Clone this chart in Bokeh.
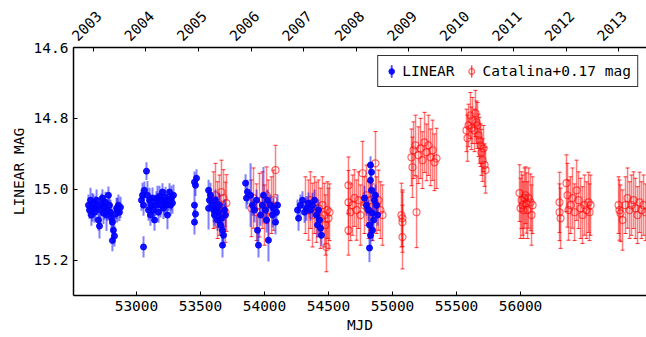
import numpy as np
from bokeh.plotting import figure
from bokeh.models import (ColumnDataSource, Range1d, LinearAxis, Whisker, TeeHead,
                          Legend, LegendItem, FixedTicker, PrintfTickFormatter, Ellipse,
                          CustomJSTickFormatter)
from bokeh.embed import file_html
from bokeh.resources import INLINE

FONT = "DejaVu Sans Mono"
FS = "14.5px"

# ---------------- LINEAR: (MJD, mag, err) per season ----------------
lin_2003 = [(52625,15.045,0.03),(52633,15.059,0.025),(52641,15.031,0.035),(52648,15.073,0.03),
            (52656,15.051,0.04),(52664,15.039,0.025),(52672,15.065,0.03),(52680,15.054,0.035),
            (52688,15.031,0.03),(52695,15.048,0.025),(52703,15.087,0.03),(52711,15.104,0.035),
            (52719,15.059,0.04),(52727,15.042,0.03),(52734,15.025,0.025),(52742,15.068,0.03),
            (52750,15.051,0.035),(52758,15.037,0.03),(52766,15.073,0.045),(52773,15.059,0.03),
            (52781,15.017,0.025),(52789,15.045,0.03),(52797,15.065,0.035),(52805,15.082,0.04),
            (52812,15.093,0.03),(52812,15.145,0.03),(52820,15.116,0.035),(52828,15.132,0.03),
            (52836,15.070,0.025),(52844,15.054,0.03),(52851,15.059,0.035),(52859,15.045,0.03),
            (52867,15.065,0.025),(52875,15.051,0.03)]
lin_2004 = [(53039,15.031,0.03),(53047,15.017,0.035),(53055,15.045,0.03),(53055,15.163,0.03),
            (53062,15.003,0.025),(53078,14.949,0.025),(53086,15.017,0.04),(53094,15.059,0.03),
            (53102,15.031,0.035),(53109,15.073,0.03),(53117,15.045,0.025),(53125,15.025,0.03),
            (53133,15.059,0.035),(53141,15.087,0.03),(53148,15.045,0.03),(53156,15.031,0.025),
            (53164,15.025,0.035),(53172,15.065,0.03),(53180,15.020,0.03),(53188,15.045,0.035),
            (53195,15.031,0.03),(53203,15.008,0.025),(53211,15.054,0.03),(53219,15.037,0.035),
            (53227,15.023,0.03),(53234,15.045,0.03),(53242,15.073,0.04),(53250,15.031,0.03),
            (53258,15.008,0.025),(53266,15.045,0.03),(53273,15.025,0.035),(53281,15.039,0.03),
            (53289,15.017,0.03)]
lin_2005 = [(53453,14.980,0.03),(53461,14.989,0.03),(53469,14.969,0.025),(53453,15.045,0.035),
            (53461,15.070,0.03),(53453,15.093,0.035)]
lin_2006 = [(53563,15.003,0.03),(53563,15.054,0.06),(53570,15.031,0.03),(53578,15.017,0.035),
            (53594,15.045,0.03),(53602,15.059,0.035),(53609,15.073,0.03),(53617,15.031,0.03),
            (53625,15.054,0.035),(53633,15.087,0.03),(53641,15.065,0.03),(53648,15.045,0.035),
            (53656,15.101,0.03),(53664,15.082,0.03),(53672,15.116,0.035),(53672,15.158,0.035),
            (53680,15.130,0.03),(53688,15.059,0.03),(53695,15.073,0.035)]
lin_2007 = [(53852,14.983,0.025),(53859,15.025,0.03),(53867,15.008,0.035),(53891,15.017,0.09),
            (53906,15.045,0.03),(53922,15.059,0.035),(53938,15.031,0.03),(53945,15.116,0.04),
            (53953,15.158,0.035),(53969,15.073,0.03),(53984,15.045,0.035),(53992,15.017,0.08),
            (54008,15.059,0.03),(54016,15.087,0.035),(54023,15.031,0.03),(54031,15.144,0.06),
            (54047,15.045,0.03),(54063,15.073,0.035),(54070,15.054,0.03),(54086,15.093,0.035),
            (54094,15.065,0.03),(54102,15.045,0.03)]
lin_2008 = [(54258,15.059,0.03),(54266,15.082,0.035),(54281,15.045,0.03),(54297,15.031,0.025),
            (54313,15.065,0.03),(54328,15.054,0.035),(54344,15.039,0.03),(54359,15.059,0.03),
            (54375,15.045,0.035),(54391,15.031,0.03),(54406,15.073,0.03),(54414,15.101,0.035),
            (54422,15.059,0.03),(54430,15.087,0.035),(54438,15.110,0.03),(54445,15.130,0.03)]
lin_2009 = [(54781,15.025,0.035),(54797,15.045,0.03),(54813,15.059,0.03),(54820,15.101,0.03),
            (54820,15.166,0.04),(54828,14.932,0.025),(54828,14.975,0.03),(54828,15.130,0.035),
            (54836,14.952,0.03),(54836,15.003,0.03),(54844,15.068,0.035),(54844,15.116,0.03),
            (54852,15.087,0.03),(54859,15.031,0.035),(54867,15.017,0.03),(54875,15.045,0.03),
            (54883,15.073,0.03)]

# ---------------- Catalina (+0.17 mag): (MJD, mag, err) per season ----------------
cat_2005 = [(53602,15.031,0.08),(53617,15.017,0.09),(53633,15.059,0.08),(53648,15.045,0.085),
            (53664,15.008,0.09),(53680,15.025,0.08),(53695,15.065,0.085),(53703,15.039,0.08)]
cat_2006 = [(53898,15.054,0.08),(53914,15.025,0.085),(53938,15.065,0.08),(53961,15.045,0.09),
            (53984,15.031,0.08),(54000,15.073,0.085),(54016,15.017,0.08),(54031,15.059,0.085),
            (54055,15.045,0.08),(54070,15.031,0.085),(54086,14.946,0.07)]
cat_2007 = [(54320,15.045,0.08),(54344,15.059,0.085),(54359,15.031,0.08),(54375,15.073,0.09),
            (54391,15.045,0.08),(54406,15.065,0.085),(54422,15.054,0.08),(54438,15.082,0.085),
            (54453,15.045,0.08),(54469,15.073,0.09),(54477,15.101,0.085),(54484,15.163,0.07),
            (54492,15.059,0.08),(54500,15.082,0.085),(54508,15.065,0.08)]
cat_2008 = [(54656,14.989,0.08),(54656,15.037,0.09),(54656,15.116,0.07),(54672,15.065,0.08),
            (54688,15.045,0.085),(54703,15.025,0.08),(54719,15.059,0.085),(54734,15.031,0.08),
            (54750,15.073,0.085),(54766,14.955,0.09),(54781,15.045,0.08),(54797,15.017,0.085),
            (54813,15.059,0.08),(54828,15.031,0.085),(54844,15.065,0.08),(54867,14.927,0.09),
            (54875,15.045,0.08),(54891,15.031,0.085),(54906,15.059,0.08),(54922,15.073,0.085)]
cat_2009a = [(55070,15.073,0.09),(55078,15.082,0.08),(55078,15.093,0.085),(55078,15.135,0.09)]
cat_2009b = [(55148,14.910,0.08),(55156,14.938,0.085),(55164,14.890,0.08),(55180,14.876,0.085),
             (55188,15.065,0.10),(55203,14.904,0.08),(55219,14.885,0.085),(55234,14.918,0.08),
             (55250,14.868,0.085),(55266,14.896,0.08),(55281,14.876,0.085),(55297,14.910,0.08),
             (55313,14.890,0.085),(55328,14.924,0.08),(55344,14.913,0.085)]
cat_2010 = [(55578,14.834,0.06),(55586,14.856,0.065),(55594,14.820,0.06),(55609,14.792,0.065),
            (55617,14.828,0.06),(55625,14.806,0.065),(55641,14.834,0.06),(55648,14.786,0.065),
            (55656,14.811,0.06),(55664,14.820,0.065),(55672,14.848,0.06),(55680,14.862,0.065),
            (55688,14.876,0.06),(55695,14.896,0.065),(55703,14.918,0.06),(55711,14.885,0.065),
            (55719,14.932,0.06),(55727,14.946,0.065)]
cat_2011 = [(55992,15.011,0.08),(56000,15.054,0.085),(56008,15.031,0.08),(56016,15.045,0.085),
            (56023,15.059,0.08),(56031,15.025,0.085),(56039,15.017,0.08),(56047,15.039,0.085),
            (56055,15.059,0.08),(56063,15.025,0.085),(56078,15.037,0.08),(56086,15.073,0.085),
            (56094,15.045,0.08)]
cat_2012 = [(56305,15.037,0.085),(56305,15.065,0.08),(56313,15.082,0.085),(56359,14.983,0.08),
            (56367,15.017,0.09),(56375,15.059,0.085),(56391,15.045,0.08),(56406,15.025,0.085),
            (56422,15.065,0.08),(56438,15.003,0.085),(56453,15.031,0.08),(56469,15.054,0.085),
            (56484,15.073,0.08),(56500,15.045,0.085),(56516,15.059,0.08),(56531,15.037,0.085),
            (56539,15.065,0.08),(56547,15.045,0.085)]
cat_2013 = [(56766,15.045,0.08),(56773,15.059,0.085),(56781,15.068,0.08),(56797,15.087,0.085),
            (56820,15.045,0.08),(56836,15.025,0.085),(56852,15.059,0.08),(56867,15.045,0.085),
            (56883,15.031,0.08),(56898,15.054,0.085),(56914,15.073,0.08),(56930,15.037,0.085),
            (56945,15.059,0.08),(56961,15.045,0.085),(56977,15.065,0.08)]

mjd_ticks = [53000, 53500, 54000, 54500, 55000, 55500, 56000]
mag_ticks = [14.6, 14.8, 15.0, 15.2]
year_ticks = [2003, 2004, 2005, 2006, 2007, 2008, 2009, 2010, 2011, 2012, 2013]


def make_source(*groups):
    rows = [r for g in groups for r in g]
    x = [r[0] for r in rows]
    y = [r[1] for r in rows]
    e = [r[2] for r in rows]
    return ColumnDataSource(dict(x=x, y=y,
                                 lo=[a - b for a, b in zip(y, e)],
                                 hi=[a + b for a, b in zip(y, e)]))


lin_src = make_source(lin_2003, lin_2004, lin_2005, lin_2006, lin_2007, lin_2008, lin_2009)
cat_src = make_source(cat_2005, cat_2006, cat_2007, cat_2008, cat_2009a, cat_2009b,
                      cat_2010, cat_2011, cat_2012, cat_2013)

p = figure(width=646, height=337, output_backend="svg", toolbar_location=None,
           x_range=Range1d(52508, 56984), y_range=Range1d(15.3, 14.6),
           x_axis_location="below",
           min_border_left=73, min_border_right=0, min_border_top=47, min_border_bottom=42,
           background_fill_color="white", border_fill_color="white")
p.outline_line_color = None
p.xgrid.visible = False
p.ygrid.visible = False

bottom = p.below[0]
left = p.left[0]

# top year axis: tick marks on the calendar scale, labels centred over the ticks
p.extra_x_ranges = {"year": Range1d(2002.62, 2013.53),
                    "year_lbl": Range1d(2002.98, 2013.89)}
top_ticks = LinearAxis(x_range_name="year", ticker=FixedTicker(ticks=year_ticks),
                       formatter=CustomJSTickFormatter(code="return ''"),
                       major_label_standoff=0)
top_lbls = LinearAxis(x_range_name="year_lbl", ticker=FixedTicker(ticks=year_ticks))
p.add_layout(top_ticks, "above")
p.add_layout(top_lbls, "above")

for ax in [bottom, left, top_ticks, top_lbls]:
    ax.axis_line_color = "black"
    ax.axis_line_width = 1.5
    ax.major_tick_in = 4
    ax.major_tick_out = 0
    ax.major_tick_line_color = "black"
    ax.minor_tick_line_color = None
    ax.major_label_text_font = FONT
    ax.major_label_text_font_size = FS
    ax.major_label_text_color = "black"
    ax.axis_label_text_font = FONT
    ax.axis_label_text_font_size = FS
    ax.axis_label_text_font_style = "normal"
    ax.axis_label_text_color = "black"

top_ticks.major_label_text_font_size = "1px"
top_lbls.axis_line_color = None
top_lbls.major_tick_line_color = None
top_lbls.major_tick_in = 0
top_lbls.major_label_orientation = np.pi / 4
top_lbls.major_label_standoff = 9

bottom.ticker = FixedTicker(ticks=mjd_ticks)
bottom.axis_label = "MJD"
bottom.axis_label_standoff = 3
left.ticker = FixedTicker(ticks=mag_ticks)
left.formatter = PrintfTickFormatter(format="%.1f")
left.axis_label = "LINEAR MAG"
left.axis_label_standoff = 4

# Catalina error bars and points (drawn first)
cat_w = Whisker(source=cat_src, base="x", lower="lo", upper="hi", dimension="height",
                line_color="red", line_alpha=0.5, line_width=1.5,
                upper_head=TeeHead(size=4, line_color="red", line_alpha=0.8, line_width=1),
                lower_head=TeeHead(size=4, line_color="red", line_alpha=0.8, line_width=1))
p.add_layout(cat_w)
cat_pts = p.scatter("x", "y", source=cat_src, marker="circle", size=7, fill_color=None,
                    line_color="red", line_alpha=0.6, line_width=1.2)

# LINEAR error bars and points
p.segment(x0="x", y0="lo", x1="x", y1="hi", source=lin_src, line_color="blue",
          line_alpha=0.5, line_width=2)
lin_pts = p.scatter("x", "y", source=lin_src, marker="circle", size=6, fill_color="blue",
                    line_color="blue", fill_alpha=0.9, line_alpha=0.9)

# thin vertical ellipses used only as the legend's error-bar symbol (kept off-frame)
key_src = ColumnDataSource(dict(x=[52000], y=[15.0]))
key_b = p.add_glyph(key_src, Ellipse(x="x", y="y", width=0.01, height=14,
                                     width_units="screen", height_units="screen",
                                     fill_color=None, line_color="blue", line_width=2,
                                     line_alpha=0.7))
key_r = p.add_glyph(key_src, Ellipse(x="x", y="y", width=0.01, height=14,
                                     width_units="screen", height_units="screen",
                                     fill_color=None, line_color="red", line_width=1.5,
                                     line_alpha=0.7))

legend = Legend(items=[LegendItem(label="LINEAR", renderers=[key_b, lin_pts]),
                       LegendItem(label="Catalina+0.17 mag", renderers=[key_r, cat_pts])],
                location="top_right", orientation="horizontal",
                label_text_font=FONT, label_text_font_size=FS, label_text_color="black",
                border_line_color="black", border_line_width=1.2, border_line_alpha=0.8,
                background_fill_color="white", background_fill_alpha=1.0,
                glyph_width=14, glyph_height=18, padding=6, spacing=10,
                label_standoff=4, margin=8)
p.add_layout(legend)

open("out.html", "w").write(file_html(p, INLINE))
